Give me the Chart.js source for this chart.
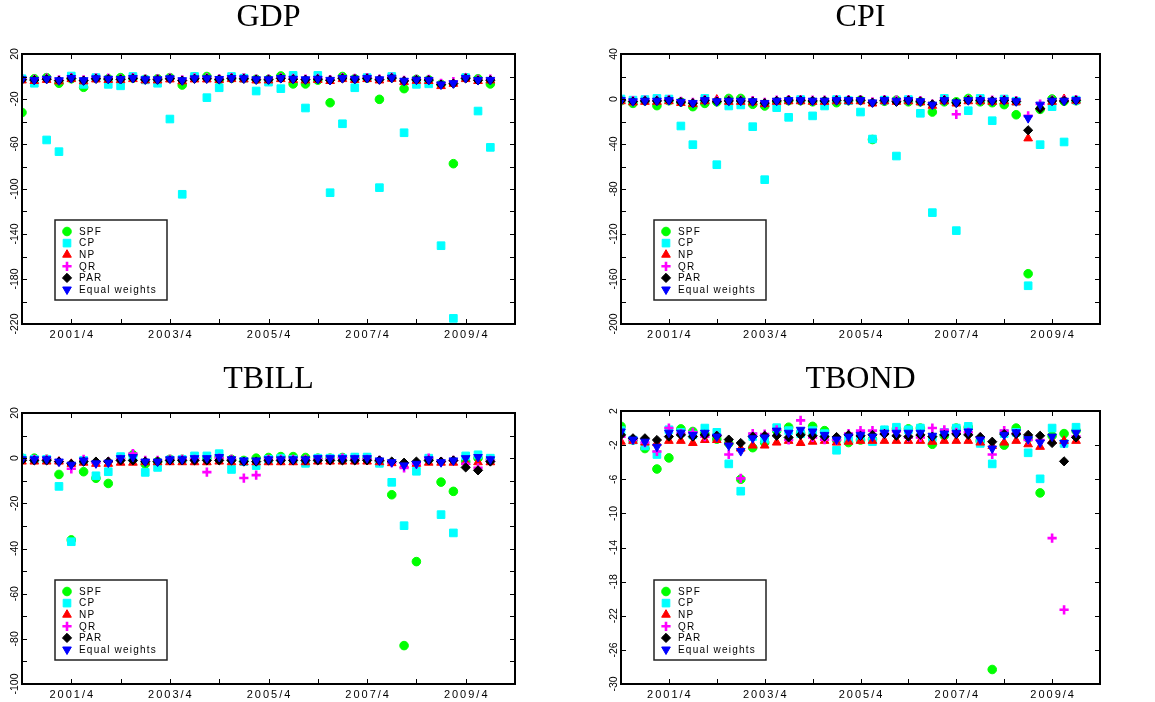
<!DOCTYPE html>
<html><head><meta charset="utf-8">
<script src="https://cdn.jsdelivr.net/npm/chart.js"></script>
<style>
html,body{margin:0;padding:0;background:#fff;width:1155px;height:702px;overflow:hidden;}
canvas{position:absolute;display:block;}
</style></head><body>
<canvas id="c0" width="537" height="345" style="left:0;top:0"></canvas>
<canvas id="c1" width="536" height="345" style="left:600px;top:0"></canvas>
<canvas id="c2" width="537" height="343" style="left:0;top:359px"></canvas>
<canvas id="c3" width="536" height="343" style="left:600px;top:359px"></canvas>
<script>
// ---------- categories ----------
const quarters = ['2000/4',
 '2001/1','2001/2','2001/3','2001/4','2002/1','2002/2','2002/3','2002/4',
 '2003/1','2003/2','2003/3','2003/4','2004/1','2004/2','2004/3','2004/4',
 '2005/1','2005/2','2005/3','2005/4','2006/1','2006/2','2006/3','2006/4',
 '2007/1','2007/2','2007/3','2007/4','2008/1','2008/2','2008/3','2008/4',
 '2009/1','2009/2','2009/3','2009/4','2010/1','2010/2','2010/3','2010/4'];
const seriesNames = ['SPF','CP','NP','QR','PAR','Equal weights'];
const xTickLabels = ['2001/4','2003/4','2005/4','2007/4','2009/4'];
const xTickMarks = ['2000/4','2001/4','2002/4','2003/4','2004/4','2005/4','2006/4','2007/4','2008/4','2009/4','2010/4'];

// ---------- y tick labels ----------
const gdpYLabels = [20,-20,-60,-100,-140,-180,-220];
const cpiYLabels = [40,0,-40,-80,-120,-160,-200];
const tbillYLabels = [20,0,-20,-40,-60,-80,-100];
const tbondYLabels = [2,-2,-6,-10,-14,-18,-22,-26,-30];

// ---------- GDP ----------
const gdpSPF = [-32,-2,-1,-6,-2,-9.6,-1.5,-2,-1,-1.5,-2.5,-2,-1,-7.6,-0.5,0,-3,-1.5,-1.5,-2.5,-2.5,0.5,-6.6,-6.6,-3.2,-23.3,0,-2,-1.5,-20.3,-1,-10.8,-2.5,-3,-7,-77.5,-1,-2,-6.6];
const gdpCP = [-2,-6,-56.4,-66.8,0.4,-7,-1,-7,-8.3,0,-3,-6,-37.8,-104.7,0,-18.8,-10,0,-1.5,-12.9,-5,-10.8,1,-28,1,-103.3,-42,-10,-1,-98.8,0,-50,-7,-6.5,-150.4,-215,-1,-30.7,-63];
const gdpNP = [-3.5,-4,-3,-4.3,-2.3,-4.3,-2.6,-3,-3.2,-2.3,-3.5,-3.5,-2.6,-4.3,-2.6,-2.6,-3.2,-2.3,-2.6,-3.5,-3.5,-2.3,-3,-3.5,-3,-4,-2.3,-3,-2.3,-3.5,-2,-4.8,-3.8,-4,-8.5,-6.5,-2.3,-4,-3.5];
const gdpQR = [-2,-2.5,-1.5,-3,-1,-3,-1.2,-1.5,-2,-1,-2.2,-2,-1.2,-3,-1.2,-1.2,-2,-1,-1.2,-2.2,-2.2,-1,-1.7,-2.2,-1.7,-2.7,-1,-1.7,-1,-2.2,-0.8,-3.5,-2.5,-2.5,-6,-4.5,-1,-2.5,-2.2];
const gdpPAR = [-2.8,-3.2,-2.4,-3.6,-1.7,-3.6,-2,-2.3,-2.6,-1.7,-2.8,-2.8,-2,-3.6,-2,-2,-2.6,-1.7,-2,-2.8,-2.8,-1.7,-2.4,-2.8,-2.4,-3.3,-1.7,-2.4,-1.7,-2.8,-1.4,-4,-3,-3.2,-7.2,-6.3,-1.7,-3.5,-3.3];
const gdpEW = [-2.5,-3,-2,-3.3,-1.3,-3.3,-1.6,-2,-2.2,-1.3,-2.5,-2.5,-1.6,-3.3,-1.6,-1.6,-2.2,-1.3,-1.6,-2.5,-2.5,-1.3,-2,-2.5,-2,-3,-1.3,-2,-1.3,-2.5,-1,-3.8,-2.8,-3,-7,-6,-1.3,-3,-3];

// ---------- CPI ----------
const cpiSPF = [-1.5,-3.9,-1.5,-5.9,-1.5,-2.7,-6.8,-3.9,-2.5,0.5,0.5,-4.7,-6.2,-2.5,-1.5,-1.5,-2.5,-2,-3.3,-1.5,-1,-36,-2,-1,-2.5,-2.5,-11.6,-2.5,-2.5,0.5,-2.5,-3.3,-5,-14,-155.3,-9.2,0,-2,-1.5];
const cpiCP = [0,-1,-0.5,0.5,0,-24,-40.6,0.5,-58.4,-6.2,-5.3,-24.6,-71.7,-7.7,-16.3,-0.5,-15,-6.2,-0.5,-1.5,-11.6,-35.6,-1,-50.7,-0.5,-12.7,-101,0.5,-117,-10.4,0.5,-19.3,0,-2,-166,-40.6,-6.8,-38.2,-1];
const cpiNP = [-2,-3,-2.5,-2.5,-2,-3.5,-4.5,-2,-0.5,-2.5,-2.5,-3,-4.5,-2.5,-2,-2,-2.5,-2.5,-2,-2,-2,-4,-2,-2.5,-2,-3,-6,-2,-4,-2,-2,-2.5,-2,-3,-35,-7,-2.5,0,-1.5];
const cpiQR = [-1,-1.5,-1,-1,-0.5,-2,-3,-0.5,-1.5,-1,-1,-1.5,-3,-1,-0.5,-0.5,-1,-1,-0.5,-0.5,-0.5,-2.5,-0.5,-1,-0.5,-1.5,-4.5,-0.5,-13.6,-0.5,-0.5,-1,-0.5,-1.5,-15,-4.5,-1,-1,-0.5];
const cpiPAR = [-1.2,-2.2,-1.7,-1.7,-1.2,-2.7,-3.7,-1.2,-2.2,-1.7,-1.7,-2.2,-3.7,-1.7,-1.2,-1.2,-1.7,-1.7,-1.2,-1.2,-1.2,-3.2,-1.2,-2.5,-1.2,-2.2,-4.7,-1.2,-3.5,-1.2,-1.2,-1.7,-1.2,-2.2,-27.8,-8.6,-1.7,-1.7,-1.2];
const cpiEW = [-1,-2,-1.5,-1.5,-1,-2.5,-3.5,-1,-2,-1.5,-1.5,-2,-3.5,-1.5,-1,-1,-1.5,-1.5,-1,-1,-1,-3,-1,-1.5,-1,-2,-5,-1,-3,-1,-1,-1.5,-1,-2,-17,-5,-1.5,-1.5,-1];

// ---------- TBILL ----------
const tbillSPF = [0,0,-0.5,-7.2,-36.2,-6,-8.9,-11.2,0,1.5,-2.6,-1.5,-0.5,-0.5,0,0,0.7,-0.5,-1,0,0.3,0.7,0.7,0.3,0,0,0.3,0,0,-1.5,-16.2,-83,-45.8,-0.5,-10.6,-14.7,-1.5,0,-0.5];
const tbillCP = [0,-0.5,-0.5,-12.5,-37,-1,-7.8,-6,0.7,0,-6.3,-4.1,-0.8,-0.5,1,1,2,-5,-1.5,-3.3,-0.5,0,-0.5,-2.3,0,0,0,0.5,0.5,-2.3,-10.7,-29.9,-5.8,0,-25,-33.1,1,1.5,0];
const tbillNP = [-1.5,-1.5,-1.5,-1.5,-2.5,-2,-2.5,-2.5,-2,-2,-1.8,-1.8,-1.8,-1.8,-1.8,-1.8,-1.5,-1.8,-1.8,-1.8,-1.8,-1.8,-1.8,-1.8,-1.5,-1.5,-1.5,-1.5,-1.5,-1.8,-2.2,-3,-2.5,-2,-2,-2,-1.8,-1.8,-1.8];
const tbillQR = [-0.5,-0.5,-0.5,-1.5,-4.7,-0.5,-2,-1.5,-0.5,2,-1,-1,-0.5,-0.5,-0.5,-6.2,0,-0.5,-8.8,-7.5,-0.5,-0.5,-0.5,-0.5,-0.5,-0.5,0,-0.5,-0.5,-1,-2,-4.3,-2.5,0,-1.5,-1,-2.5,-4.3,-1];
const tbillPAR = [-1,-1,-1,-1.5,-2.5,-1.5,-1.5,-1.5,-1,-1,-1.5,-1.5,-1,-1,-1,-1,-1,-1,-1.5,-1.5,-1,-1,-1,-1,-1,-1,-1,-1,-1,-1,-1.5,-2,-1.5,-1,-1.5,-1,-4.1,-5.4,-1.5];
const tbillEW = [-0.5,-0.5,-0.5,-1.5,-2.9,-1,-2.3,-2,0,0.5,-1.5,-1.5,-0.5,-0.5,0,0,0.5,-0.5,-1,-1,-0.5,-0.5,-0.5,-0.5,0,0,0,0,0,-1,-1.8,-3.2,-2.5,-0.5,-1.8,-1,0,0.5,-0.5];

// ---------- TBOND ----------
const tbondSPF = [0.2,-1.4,-2.4,-4.8,-3.5,-0.1,-0.4,-0.65,-1.3,-1.8,-6,-2.3,-1.7,-0.3,0.1,-0.6,0.2,-0.3,-1.4,-1.7,-1.4,-1.3,-0.3,-0.1,-0.1,0,-1.9,-0.9,0,0.1,-1.5,-28.3,-2,0,-1.2,-7.6,-0.9,-0.65,-0.3];
const tbondCP = [-0.3,-1.4,-2.1,-3.1,-0.2,-0.5,-0.8,0,-0.5,-4.2,-7.4,-1,-1.3,0.05,-0.3,-0.65,-0.3,-0.65,-2.6,-1.4,-1.1,-1.6,-0.2,0.1,-0.2,0,-1.1,-0.5,0,0.2,-1.8,-4.2,-0.65,-0.5,-2.9,-5.95,0,-1.8,0.1];
const tbondNP = [-1.6,-1.5,-1.7,-1.75,-1.5,-1.5,-1.75,-1.4,-1.4,-1.6,-2.4,-2.05,-2.05,-1.7,-1.5,-1.75,-1.6,-1.5,-1.7,-1.6,-1.5,-1.5,-1.5,-1.5,-1.5,-1.5,-1.6,-1.5,-1.5,-1.5,-1.7,-2.1,-1.7,-1.5,-1.9,-2.2,-1.5,-1.5,-1.5];
const tbondQR = [-1,-1.35,-1.7,-2.75,0,-0.65,-0.5,-1,-0.9,-3.1,-5.9,-0.65,-0.7,-0.2,-1.4,0.9,-1.1,-1.35,-1.4,-0.65,-0.3,-0.3,-0.65,-0.4,-1.1,-1.1,0,-0.2,-0.5,-0.5,-1.1,-3.1,-0.3,-0.65,-1.4,-1.4,-12.9,-21.3,-1];
const tbondPAR = [-0.8,-1.2,-1.2,-1.4,-1,-0.8,-1,-0.8,-0.9,-1.35,-1.75,-1,-0.9,-0.9,-1.1,-0.8,-0.9,-1,-1.05,-0.8,-0.9,-0.8,-0.7,-0.9,-1,-0.8,-1,-0.8,-0.7,-0.8,-1.05,-1.6,-0.7,-0.7,-0.8,-0.9,-1.75,-3.9,-1.1];
const tbondEW = [-0.4,-1.35,-1.6,-2.2,-0.55,-0.55,-0.8,-0.55,-1,-2.05,-2.7,-1.2,-1.1,-0.3,-0.55,-0.2,-0.4,-0.8,-1.35,-1,-0.8,-1,-0.55,-0.55,-0.55,-0.55,-0.9,-0.65,-0.55,-0.4,-1.35,-2.4,-0.8,-0.5,-1.3,-1.7,-1,-1.75,-0.55];

// ---------- styles ----------
const markerStyles = [
  {color:'#00ff00', pointStyle:'circle',   radius:4.3, rot:0,   bw:1, order:6},
  {color:'#00ffff', pointStyle:'rect',     radius:5.4, rot:0,   bw:1, order:5},
  {color:'#ff0000', pointStyle:'triangle', radius:5,   rot:0,   bw:1, order:4},
  {color:'#ff00ff', pointStyle:'cross',    radius:4.6, rot:0,   bw:2.6, order:3},
  {color:'#000000', pointStyle:'rectRot',  radius:4.6, rot:0,   bw:1, order:2},
  {color:'#0000ff', pointStyle:'triangle', radius:5,   rot:180, bw:1, order:1}
];

function drawMarker(ctx, st, x, y) {
  ctx.save();
  ctx.fillStyle = st.color; ctx.strokeStyle = st.color; ctx.lineWidth = st.bw;
  Chart.helpers.drawPoint(ctx, {pointStyle: st.pointStyle, rotation: st.rot, radius: st.radius, borderWidth: st.bw}, x, y);
  ctx.restore();
}

const decor = {
  id: 'decor',
  afterDatasetsDraw(chart, args, opts) {
    const ctx = chart.ctx, a = chart.chartArea;
    const xs = chart.scales.x, ys = chart.scales.y;
    ctx.save();
    ctx.strokeStyle = '#000';
    ctx.lineWidth = 1;
    ctx.beginPath();
    xTickMarks.forEach(l => {
      const px = Math.round(xs.getPixelForValue(quarters.indexOf(l))) + 0.5;
      ctx.moveTo(px, a.bottom); ctx.lineTo(px, a.bottom - 5);
      ctx.moveTo(px, a.top); ctx.lineTo(px, a.top + 5);
    });
    ys.ticks.forEach(t => {
      const py = Math.round(ys.getPixelForValue(t.value)) + 0.5;
      ctx.moveTo(a.left, py); ctx.lineTo(a.left + 5, py);
      ctx.moveTo(a.right, py); ctx.lineTo(a.right - 5, py);
    });
    ctx.stroke();
    ctx.lineWidth = 2;
    ctx.strokeRect(a.left, a.top, a.right - a.left, a.bottom - a.top);

    ctx.fillStyle = '#000';
    ctx.font = '11px "Liberation Sans", Arial, sans-serif';
    ctx.letterSpacing = '2px';
    ctx.textAlign = 'center'; ctx.textBaseline = 'top';
    xTickLabels.forEach(l => {
      const px = xs.getPixelForValue(quarters.indexOf(l));
      ctx.fillText(l, px + 1, a.bottom + 5);
    });
    ctx.letterSpacing = '0px';
    ctx.font = '10.5px "Liberation Sans", Arial, sans-serif';
    ctx.textBaseline = 'alphabetic';
    opts.yLabels.forEach(v => {
      const py = ys.getPixelForValue(v);
      ctx.save();
      ctx.translate(a.left - 4, py);
      ctx.rotate(-Math.PI / 2);
      ctx.fillText(String(v), 0, 0);
      ctx.restore();
    });

    // legend
    const lx = a.left + 33, lw = 112, lh = 80, ly = a.bottom - 24 - lh;
    ctx.fillStyle = '#fff';
    ctx.fillRect(lx, ly, lw, lh);
    ctx.strokeStyle = '#222'; ctx.lineWidth = 1.5;
    ctx.strokeRect(lx, ly, lw, lh);
    ctx.font = '10px "Liberation Sans", Arial, sans-serif';
    ctx.letterSpacing = '1.2px';
    ctx.textAlign = 'left'; ctx.textBaseline = 'middle';
    seriesNames.forEach((n, k) => {
      const y = ly + 11.5 + k * 11.6;
      drawMarker(ctx, markerStyles[k], lx + 12, y);
      ctx.fillStyle = '#000';
      ctx.fillText(n, lx + 24, y + 0.5);
    });
    ctx.restore();
  }
};

function makeChart(id, title, series, yMin, yMax, yStep, yLabels, pad, titlePad) {
  const datasets = series.map((d, k) => {
    const st = markerStyles[k];
    return {
      label: seriesNames[k], data: d, showLine: false, order: st.order,
      pointStyle: st.pointStyle, pointRotation: st.rot, pointRadius: st.radius,
      pointBackgroundColor: st.color, pointBorderColor: st.color, pointBorderWidth: st.bw,
      pointHoverRadius: st.radius, clip: 0
    };
  });
  return new Chart(document.getElementById(id), {
    type: 'line',
    data: { labels: quarters, datasets },
    options: {
      responsive: false, animation: false, devicePixelRatio: 1,
      layout: { padding: pad },
      scales: {
        x: { type: 'category', display: false, offset: false },
        y: { type: 'linear', display: false, min: yMin, max: yMax, ticks: { stepSize: yStep } }
      },
      plugins: {
        legend: { display: false },
        tooltip: { enabled: false },
        title: { display: true, text: title, color: '#000',
          font: { family: '"Liberation Serif", "Times New Roman", serif', size: 32, weight: 'normal', lineHeight: 36/32 },
          padding: titlePad },
        decor: { yLabels }
      }
    },
    plugins: [decor]
  });
}

makeChart('c0', 'GDP', [gdpSPF, gdpCP, gdpNP, gdpQR, gdpPAR, gdpEW], -220, 20, 20, gdpYLabels,
  {left: 22, right: 22, top: 0, bottom: 21}, {top: 0, bottom: 18});
makeChart('c1', 'CPI', [cpiSPF, cpiCP, cpiNP, cpiQR, cpiPAR, cpiEW], -200, 40, 20, cpiYLabels,
  {left: 21, right: 36, top: 0, bottom: 21}, {top: 0, bottom: 18});
makeChart('c2', 'TBILL', [tbillSPF, tbillCP, tbillNP, tbillQR, tbillPAR, tbillEW], -100, 20, 10, tbillYLabels,
  {left: 22, right: 22, top: 0, bottom: 18}, {top: 3, bottom: 15});
makeChart('c3', 'TBOND', [tbondSPF, tbondCP, tbondNP, tbondQR, tbondPAR, tbondEW], -30, 2, 2, tbondYLabels,
  {left: 21, right: 36, top: 0, bottom: 18}, {top: 3, bottom: 13});
</script>
</body></html>
